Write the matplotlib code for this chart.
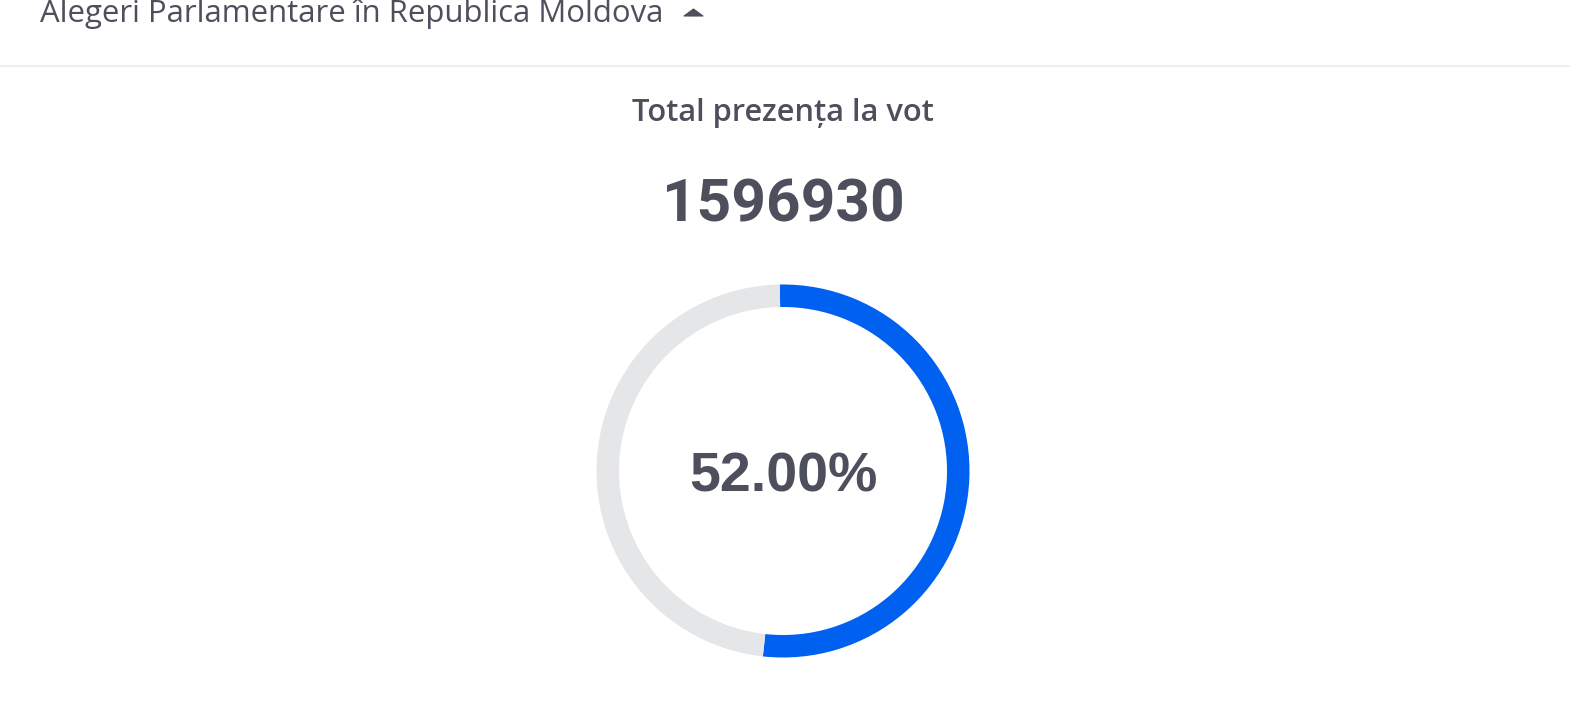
import matplotlib
matplotlib.use("Agg")
import matplotlib.pyplot as plt
from matplotlib.lines import Line2D
from matplotlib.patches import Polygon

# data
header = "Alegeri Parlamentare în Republica Moldova"
card_title = "Total prezența la vot"
total_votes = 1596930
turnout_pct = 52.00
slices = [turnout_pct, 100 - turnout_pct]
slice_colors = ["#0060f0", "#e5e6e8"]

W, H = 1570, 705
text_color = "#4d4f5c"


def fx(px):
    return px / W


def fy(py):
    return 1 - py / H


fig = plt.figure(figsize=(W / 100, H / 100), dpi=100)
fig.patch.set_facecolor("white")

# header row (cut at the top like the screenshot)
fig.text(fx(40), fy(22), header, fontsize=22.4, family="Open Sans",
         color=text_color, ha="left", va="baseline")
tri = [(fx(684), fy(16)), (fx(703), fy(16)), (fx(693.5), fy(9))]
fig.add_artist(Polygon(tri, closed=True, transform=fig.transFigure,
                       facecolor=text_color, edgecolor=text_color, lw=0.8,
                       joinstyle="round"))
fig.add_artist(Line2D([0, 1], [fy(65.5), fy(65.5)], color="#ececec", lw=1.2))

# card texts
fig.text(fx(782.5), fy(121.5), card_title, fontsize=22.2, family="Open Sans",
         fontweight="semibold", color=text_color, ha="center", va="baseline")
fig.text(fx(783), fy(222), str(total_votes), fontsize=43.5, family="Roboto",
         fontweight="bold", color=text_color, ha="center", va="baseline")

# ring
cx, cy, box = 783, 471, 380
ax = fig.add_axes([fx(cx - box / 2), fy(cy + box / 2), box / W, box / H])
ax.pie(slices, colors=slice_colors, startangle=91, counterclock=False,
       radius=186.5 / (box / 2),
       wedgeprops=dict(width=22.5 / (box / 2), linewidth=0))
ax.set_xlim(-1, 1)
ax.set_ylim(-1, 1)
ax.set_aspect("equal")
ax.axis("off")
ax.text(0, -0.035, f"{turnout_pct:.2f}%", fontsize=40, family="Liberation Sans",
        fontweight="bold", color=text_color, ha="center", va="center")

fig.savefig("out.png", dpi=100, facecolor="white")
